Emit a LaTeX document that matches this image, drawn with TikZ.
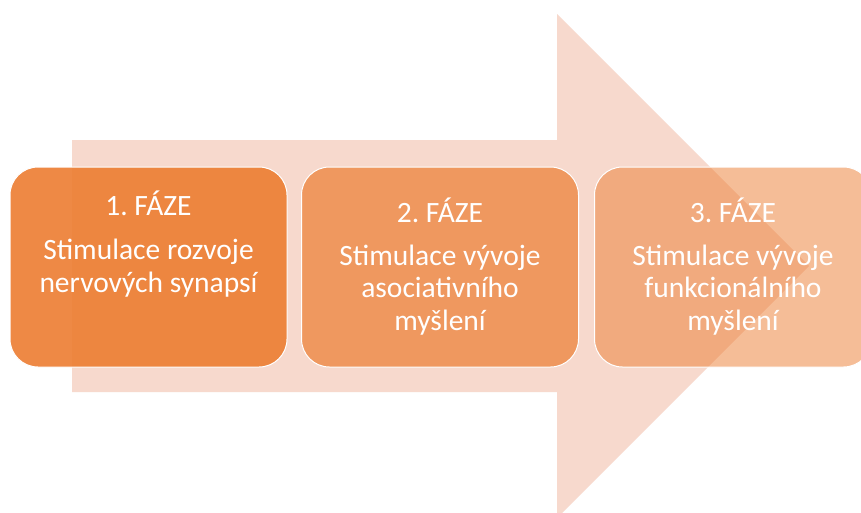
\documentclass[tikz,border=0pt]{standalone}
\usepackage{fontspec}
\setmainfont{Carlito}
\usetikzlibrary{positioning}
\definecolor{fazeorange}{RGB}{237,125,49}
\definecolor{arrowpeach}{RGB}{247,217,205}
\tikzset{
    phasebox/.style={rounded corners=28pt, minimum width=277pt, minimum height=200pt,
        inner sep=0pt, fill=fazeorange, draw=white, line width=1pt},
    phasetext/.style={text=white, align=center, inner sep=0pt,
        font=\fontsize{29.5}{32.5}\selectfont\frenchspacing}
}

\begin{document}
\begin{tikzpicture}[x=1pt,y=-1pt]

    % Visible frame.
    \clip (0,0) rectangle (861,512);
    \fill[white] (0,0) rectangle (861,512);

    % Draw big arrow.
    \fill[arrowpeach] (72,140) -- (557,140) -- (557,14) -- (809,266)
        -- (557,518) -- (557,392) -- (72,392) -- cycle;

    % Draw phase boxes.
    \node[phasebox, fill opacity=.9] (faze1) at (148.5,267) {};
    \node[phasebox, fill opacity=.7] (faze2) at (440,267) {};
    \node[phasebox, fill opacity=.5] (faze3) at (733,267) {};

    % Titles.
    \node[phasetext] (titul1) at (faze1 |- 0,203) {1. FÁZE};
    \node[phasetext] (titul2) at (faze2 |- 0,210) {2. FÁZE};
    \node[phasetext] (titul3) at (faze3 |- 0,210) {3. FÁZE};

    % Descriptions.
    \node[phasetext] (popis1) at (faze1 |- 0,268) {Stimulace rozvoje\\nervových synapsí};
    \node[phasetext] (popis2) at (faze2 |- 0,290) {Stimulace vývoje\\asociativního\\myšlení};
    \node[phasetext] (popis3) at (faze3 |- 0,290) {Stimulace vývoje\\funkcionálního\\myšlení};
\end{tikzpicture}
\end{document}
